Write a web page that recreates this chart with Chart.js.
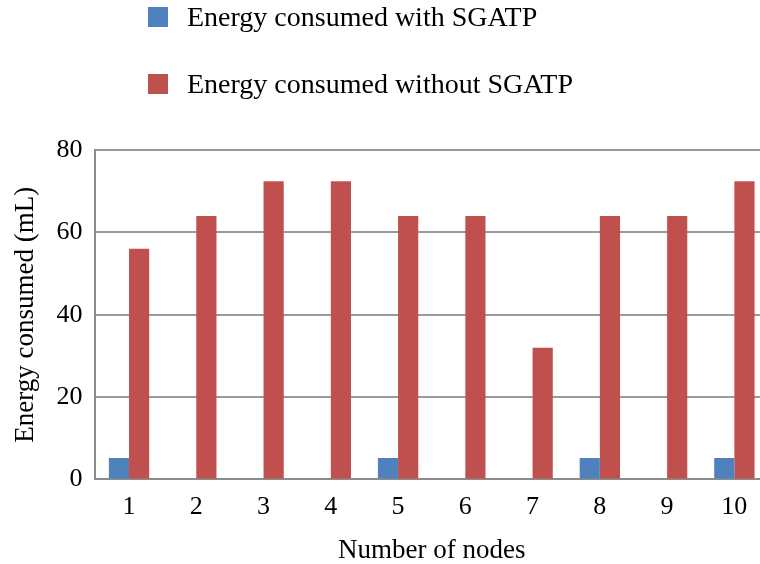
<!DOCTYPE html>
<html>
<head>
<meta charset="utf-8">
<script src="https://cdn.jsdelivr.net/npm/chart.js@4"></script>
<style>
  html, body { margin: 0; padding: 0; background: #fff; }
  #wrap { position: relative; width: 760px; height: 564px; overflow: hidden; }
  #legend { position: absolute; left: 148px; top: 1px; font-family: "Liberation Serif", serif; font-size: 28px; color: #000; }
  #legend .item { display: flex; align-items: center; height: 32px; margin-bottom: 35px; white-space: nowrap; }
  #legend .box { width: 20px; height: 20px; margin-right: 19px; }
</style>
</head>
<body>
<div id="wrap">
  <!-- canvas a little wider than the window: the original plot is cut at the right edge -->
  <canvas id="chart" width="768" height="564"></canvas>
  <div id="legend"></div>
</div>
<script>
// values
const nodes = ['1', '2', '3', '4', '5', '6', '7', '8', '9', '10'];
const withSgatp = [5.2, 0, 0, 0, 5.2, 0, 0, 5.2, 0, 5.2];
const withoutSgatp = [56, 64, 72.4, 72.4, 64, 64, 32, 64, 64, 72.4];
const yTicks = [0, 20, 40, 60, 80];

const seriesNames = ['Energy consumed with SGATP', 'Energy consumed without SGATP'];
const seriesColors = ['#4F81BD', '#C0504D'];

const serif = 'Liberation Serif, serif';

const ctx = document.getElementById('chart').getContext('2d');
const chart = new Chart(ctx, {
    type: 'bar',
    data: {
        labels: nodes,
        datasets: [
            { label: seriesNames[0], data: withSgatp, backgroundColor: seriesColors[0] },
            { label: seriesNames[1], data: withoutSgatp, backgroundColor: seriesColors[1] }
        ]
    },
    options: {
        responsive: false,
        animation: false,
        layout: { padding: { top: 150, left: 10, right: 0, bottom: -3 } },
        datasets: { bar: { categoryPercentage: 0.6, barPercentage: 1 } },
        plugins: { legend: { display: false }, tooltip: { enabled: false } },
        scales: {
            x: {
                grid: { display: false, drawTicks: false },
                border: { display: true, color: '#8c8c8c', width: 2 },
                ticks: { color: '#000', font: { family: serif, size: 26 }, padding: 12 },
                title: { display: true, text: 'Number of nodes', color: '#000', font: { family: serif, size: 27 }, padding: { top: 0, bottom: 0 } }
            },
            y: {
                min: yTicks[0],
                max: yTicks[yTicks.length - 1],
                afterBuildTicks: axis => { axis.ticks = yTicks.map(v => ({ value: v })); },
                grid: { color: '#9a9a9a', lineWidth: 2, drawTicks: false },
                border: { display: true, color: '#8c8c8c', width: 2 },
                ticks: { color: '#000', font: { family: serif, size: 26 }, padding: 13 },
                title: { display: true, text: 'Energy consumed (mL)', color: '#000', font: { family: serif, size: 27 }, padding: { top: 0, bottom: 1 } }
            }
        }
    }
});

// stacked legend built from the chart's datasets
const legend = document.getElementById('legend');
chart.data.datasets.forEach(ds => {
    const item = document.createElement('div');
    item.className = 'item';
    const box = document.createElement('span');
    box.className = 'box';
    box.style.background = ds.backgroundColor;
    const text = document.createElement('span');
    text.textContent = ds.label;
    item.appendChild(box);
    item.appendChild(text);
    legend.appendChild(item);
});
</script>
</body>
</html>
